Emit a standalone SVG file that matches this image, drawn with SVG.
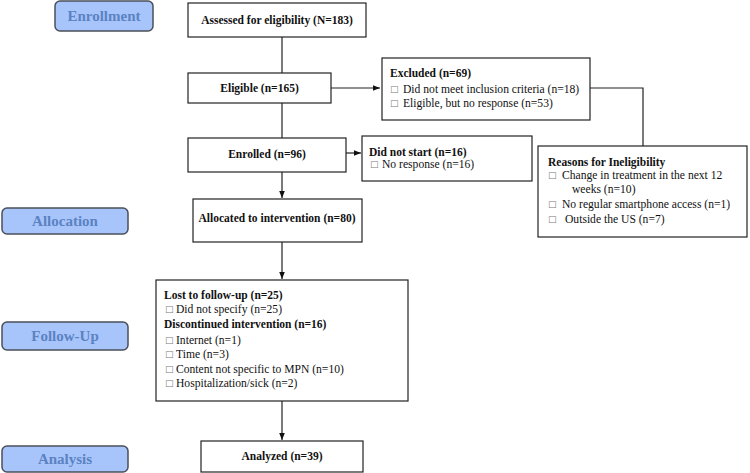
<svg xmlns="http://www.w3.org/2000/svg" width="750" height="473" viewBox="0 0 750 473">
<defs>
<style>
.stage rect{fill:#a8c5fb;stroke:#4a4f5a;stroke-width:1.5}
.stage text{font-family:"Liberation Serif",serif;font-weight:bold;font-size:15px;fill:#5b82c2;text-anchor:middle}
.box{fill:#fff;stroke:#222;stroke-width:1.2}
.t{font-family:"Liberation Serif",serif;font-size:11.6px;fill:#111}
.b{font-weight:bold;font-size:11.5px}
.c{text-anchor:middle}
.bul{font-family:"DejaVu Sans",sans-serif;font-size:9px;fill:#777}
.ln{fill:none;stroke:#222;stroke-width:1.2}
</style>
<marker id="ar" viewBox="0 0 10 10" refX="10" refY="5" markerWidth="6" markerHeight="6" orient="auto"><path d="M0,1 L10,5 L0,9 z" fill="#111"/></marker>
</defs>
<rect width="750" height="473" fill="#fff"/>
<g id="stage-enrollment" class="stage"><rect x="55" y="1" width="98" height="30" rx="5"/><text x="104" y="21">Enrollment</text></g>
<g id="stage-allocation" class="stage"><rect x="2" y="208" width="126" height="26" rx="5"/><text x="65" y="226">Allocation</text></g>
<g id="stage-followup" class="stage"><rect x="2" y="322" width="126" height="28" rx="5"/><text x="65" y="341">Follow-Up</text></g>
<g id="stage-analysis" class="stage"><rect x="2" y="446" width="126" height="26" rx="5"/><text x="65" y="464">Analysis</text></g>
<g id="connectors">
<path class="ln" d="M282,37 V73"/>
<path class="ln" d="M331,88 H380" marker-end="url(#ar)"/>
<path class="ln" d="M282,103 V138"/>
<path class="ln" d="M346,153 H361" marker-end="url(#ar)"/>
<path class="ln" d="M282,172 V198" marker-end="url(#ar)"/>
<path class="ln" d="M590,88 H643 V146"/>
<path class="ln" d="M282,242 V279" marker-end="url(#ar)"/>
<path class="ln" d="M282,401 V440" marker-end="url(#ar)"/>
</g>
<g id="assessed"><rect class="box" x="188" y="3" width="178" height="34"/><text class="t b c" x="277" y="24">Assessed for eligibility (N=183)</text></g>
<g id="eligible"><rect class="box" x="188" y="73" width="143" height="30"/><text class="t b c" x="259.5" y="92">Eligible (n=165)</text></g>
<g id="excluded"><rect class="box" x="382" y="58" width="208" height="62"/>
<text class="t b" x="390" y="77">Excluded (n=69)</text>
<text class="bul" x="390" y="92">□</text><text class="t" x="403" y="93">Did not meet inclusion criteria (n=18)</text>
<text class="bul" x="390" y="106">□</text><text class="t" x="403" y="107">Eligible, but no response (n=53)</text></g>
<g id="enrolled"><rect class="box" x="188" y="138" width="158" height="34"/><text class="t b c" x="267" y="158">Enrolled (n=96)</text></g>
<g id="didnotstart"><rect class="box" x="362" y="136" width="170" height="45"/>
<text class="t b" x="369" y="156">Did not start (n=16)</text>
<text class="bul" x="370" y="167">□</text><text class="t" x="382" y="168">No response (n=16)</text></g>
<g id="reasons"><rect class="box" x="538" y="146" width="209" height="91"/>
<text class="t b" x="548" y="166">Reasons for Ineligibility</text>
<text class="bul" x="548" y="178">□</text><text class="t" x="562" y="179">Change in treatment in the next 12</text>
<text class="t" x="572" y="193">weeks (n=10)</text>
<text class="bul" x="548" y="207">□</text><text class="t" x="562" y="208">No regular smartphone access (n=1)</text>
<text class="bul" x="548" y="222">□</text><text class="t" x="565" y="223">Outside the US  (n=7)</text></g>
<g id="allocated"><rect class="box" x="193" y="199" width="169" height="43"/><text class="t b c" x="277" y="222">Allocated to intervention (n=80)</text></g>
<g id="followup"><rect class="box" x="156" y="280" width="252" height="121"/>
<text class="t b" x="164" y="299">Lost to follow-up (n=25)</text>
<text class="bul" x="165" y="312">□</text><text class="t" x="176" y="313">Did not specify (n=25)</text>
<text class="t b" x="164" y="328">Discontinued intervention (n=16)</text>
<text class="bul" x="165" y="343">□</text><text class="t" x="176" y="344">Internet (n=1)</text>
<text class="bul" x="165" y="357">□</text><text class="t" x="176" y="358">Time (n=3)</text>
<text class="bul" x="165" y="372">□</text><text class="t" x="176" y="373">Content not specific to MPN  (n=10)</text>
<text class="bul" x="165" y="386">□</text><text class="t" x="176" y="387">Hospitalization/sick (n=2)</text></g>
<g id="analyzed"><rect class="box" x="201" y="441" width="162" height="31"/><text class="t b c" x="282" y="460">Analyzed (n=39)</text></g>
</svg>
